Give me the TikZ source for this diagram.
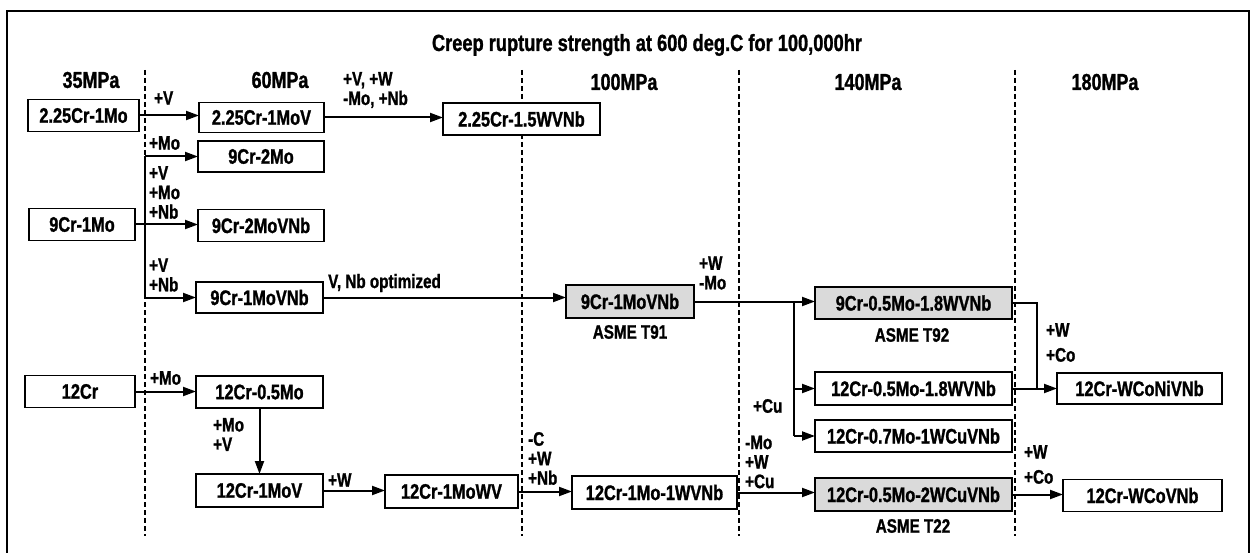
\documentclass[tikz,border=0pt]{standalone}
\usepackage{fontspec}
\setmainfont{Liberation Sans}[FakeStretch=0.78, BoldFeatures={FakeBold=1.2}]
\usetikzlibrary{arrows.meta}
\definecolor{boxgray}{RGB}{218,218,218}
\tikzset{
  alloy/.style={draw, fill=white, line width=1.5pt, inner sep=0pt, outer sep=0pt, minimum height=32pt,
    font=\bfseries\fontsize{21}{23}\selectfont},
  grayalloy/.style={alloy, fill=boxgray},
  lab/.style={anchor=west, align=left, inner sep=0pt, font=\bfseries\fontsize{19.5}{19.5}\selectfont},
  labwide/.style={lab, font=\bfseries\fontsize{19.5}{25}\selectfont},
  asme/.style={inner sep=0pt, font=\bfseries\fontsize{19.5}{21}\selectfont},
  head/.style={inner sep=0pt, font=\bfseries\fontsize{23}{25}\selectfont},
  conn/.style={line width=2pt},
  arr/.style={conn, -{Triangle[length=13pt,width=9pt]}},
  divider/.style={line width=1.3pt, dash pattern=on 5pt off 3pt},
}
\begin{document}
\begin{tikzpicture}[x=1pt,y=-1pt]
\useasboundingbox (0,0) rectangle (1252,553);
% frame
\draw[line width=2.2pt] (7,600) -- (7,11) -- (1249,11) -- (1249,600);
% title and headers
\node[head, font=\bfseries\fontsize{23.4}{25}\selectfont] (title) at (647,45) {Creep rupture strength at 600 deg.C for 100,000hr};
\node[head] (h35) at (91,80) {35MPa};
\node[head] (h60) at (280,80) {60MPa};
\node[head] (h100) at (624,82) {100MPa};
\node[head] (h140) at (868,82) {140MPa};
\node[head] (h180) at (1105,82) {180MPa};
% dividers
\coordinate (d1t) at (145,70); \coordinate (d1b) at (145,536);
\coordinate (d2t) at (522,70); \coordinate (d2b) at (522,536);
\coordinate (d3t) at (739,70); \coordinate (d3b) at (739,536);
\coordinate (d4t) at (1015,70); \coordinate (d4b) at (1015,536);
\draw[divider] (d1t) -- (d1b);
\draw[divider] (d2t) -- (d2b);
\draw[divider] (d3t) -- (d3b);
\draw[divider] (d4t) -- (d4b);
% boxes
\node[alloy, minimum width=111pt] (b1) at (83.5,115.5) {2.25Cr-1Mo};
\node[alloy, minimum width=125pt, minimum height=30pt] (b2) at (261.5,117.5) {2.25Cr-1MoV};
\node[alloy, minimum width=157pt] (b3) at (521.5,119) {2.25Cr-1.5WVNb};
\node[alloy, minimum width=126pt, minimum height=31pt] (b4) at (261,156.5) {9Cr-2Mo};
\node[alloy, minimum width=106pt] (b5) at (82,224.5) {9Cr-1Mo};
\node[alloy, minimum width=126pt] (b6) at (261,225.5) {9Cr-2MoVNb};
\node[alloy, minimum width=127pt, minimum height=31pt] (b7) at (259.5,297.5) {9Cr-1MoVNb};
\node[grayalloy, minimum width=128pt, minimum height=33pt] (b8) at (630,301.5) {9Cr-1MoVNb};
\node[grayalloy, minimum width=197pt] (b9) at (913.5,303) {9Cr-0.5Mo-1.8WVNb};
\node[alloy, minimum width=110pt] (b10) at (80,391.5) {12Cr};
\node[alloy, minimum width=127pt] (b11) at (259.5,392) {12Cr-0.5Mo};
\node[alloy, minimum width=127pt, minimum height=33pt] (b12) at (259.5,490.5) {12Cr-1MoV};
\node[alloy, minimum width=133pt, minimum height=33pt] (b13) at (451.5,491.5) {12Cr-1MoWV};
\node[alloy, minimum width=165pt, minimum height=33pt] (b14) at (654.5,492.5) {12Cr-1Mo-1WVNb};
\node[grayalloy, minimum width=197pt, minimum height=33pt] (b15) at (913.5,494.5) {12Cr-0.5Mo-2WCuVNb};
\node[alloy, minimum width=197pt, minimum height=33pt] (b16) at (913.5,388.5) {12Cr-0.5Mo-1.8WVNb};
\node[alloy, minimum width=197pt] (b17) at (913.5,436) {12Cr-0.7Mo-1WCuVNb};
\node[alloy, minimum width=165pt, minimum height=31pt] (b18) at (1139.5,388.5) {12Cr-WCoNiVNb};
\node[alloy, minimum width=159pt] (b19) at (1142.5,495.5) {12Cr-WCoVNb};
% ASME labels
\node[asme] (t91) at (630,332) {ASME T91};
\node[asme] (t92) at (912,335) {ASME T92};
\node[asme] (t22) at (913,526) {ASME T22};
% connectors
\draw[arr] (b1.east) -- (b1.east -| b2.west);
\draw[arr] (b2.east) -- (b2.east -| b3.west);
\coordinate (tr1) at (145,0);
\draw[conn] (tr1 |- b4.west) -- (tr1 |- b7.west);
\draw[arr] (tr1 |- b4.west) -- (b4.west);
\draw[arr] (b5.east) -- (b5.east -| b6.west);
\draw[arr] (tr1 |- b7.west) -- (b7.west);
\draw[arr] (b7.east) -- (b7.east -| b8.west);
\draw[arr] (b8.east) -- (b8.east -| b9.west);
\coordinate (tr2) at (794,0);
\draw[conn] (tr2 |- b8.east) -- (tr2 |- b17.west);
\draw[arr] (tr2 |- b16.west) -- (b16.west);
\draw[arr] (tr2 |- b17.west) -- (b17.west);
\coordinate (tr3) at (1037,0);
\draw[conn] (b9.east) -| (tr3 |- b18.west);
\draw[arr] (b16.east) -- (b16.east -| b18.west);
\draw[arr] (b10.east) -- (b10.east -| b11.west);
\draw[arr] (b11.south) -- (b12.north);
\draw[arr] (b12.east) -- (b12.east -| b13.west);
\draw[arr] (b13.east) -- (b13.east -| b14.west);
\draw[arr] (b14.east) -- (b14.east -| b15.west);
\draw[arr] (b15.east) -- (b15.east -| b19.west);
% connector labels
\node[lab] (l1) at (154,98) {+V};
\node[lab] (l2) at (343,90) {+V, +W\\-Mo, +Nb};
\node[lab] (l3) at (149,143) {+Mo};
\node[lab] (l4) at (149,192.5) {+V\\+Mo\\+Nb};
\node[lab] (l5) at (149,275) {+V\\+Nb};
\node[lab] (l6) at (328,283) {V, Nb optimized};
\node[lab] (l7) at (699,273) {+W\\-Mo};
\node[lab] (l8) at (753,406) {+Cu};
\node[labwide] (l9) at (1046,342.5) {+W\\+Co};
\node[lab] (l10) at (150,378) {+Mo};
\node[lab] (l11) at (213,434.5) {+Mo\\+V};
\node[lab] (l12) at (328,480) {+W};
\node[lab] (l13) at (528,458.5) {-C\\+W\\+Nb};
\node[lab] (l14) at (745,462) {-Mo\\+W\\+Cu};
\node[labwide] (l15) at (1024,464.5) {+W\\+Co};
\end{tikzpicture}
\end{document}
